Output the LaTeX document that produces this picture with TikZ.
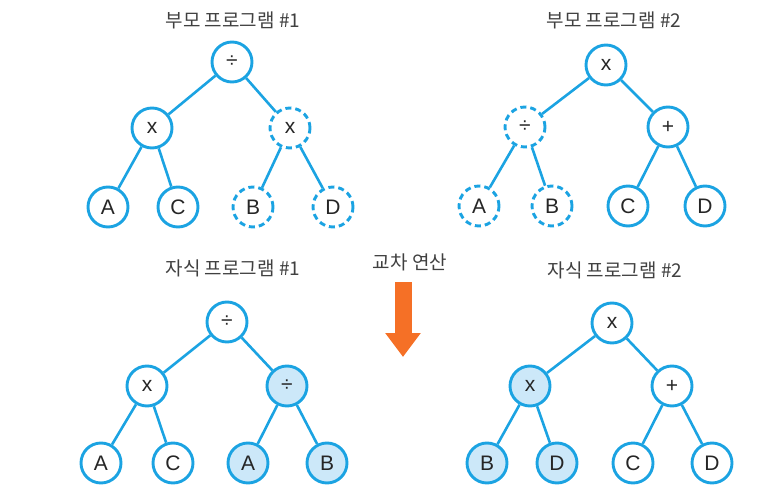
\documentclass[tikz,border=0pt]{standalone}
\usepackage{fontspec}
\setmainfont{Liberation Sans}
\newfontfamily\krfont{Noto Sans CJK KR}
\usetikzlibrary{arrows.meta}
\definecolor{treeblue}{RGB}{27,163,226}
\definecolor{nodefill}{RGB}{204,232,249}
\definecolor{arrorange}{RGB}{245,112,38}
\definecolor{titlegray}{RGB}{64,64,64}

\begin{document}
\begin{tikzpicture}[x=1pt,y=-1pt]
    % Tree style
    \tikzset{
        gp/.style={circle,draw=treeblue,line width=2.9pt,minimum size=40pt,inner sep=0pt,
                   fill=white,text=black!85,font=\fontsize{21}{21}\selectfont},
        gpcut/.style={gp,dash pattern=on 6pt off 4pt},
        gpnew/.style={gp,fill=nodefill},
        branch/.style={draw=treeblue,line width=2.6pt},
        title/.style={font=\krfont\fontsize{19}{19}\selectfont,text=titlegray}
    }
    \useasboundingbox (0,0) rectangle (781,500);

    % Titles
    \node[title] (t1) at (233,20) {부모 프로그램 \#1};
    \node[title] (t2) at (614,20) {부모 프로그램 \#2};
    \node[title] (t3) at (233,268) {자식 프로그램 \#1};
    \node[title] (t4) at (615,270) {자식 프로그램 \#2};
    \node[title] (xover) at (410,262) {교차 연산};

    % Parent 1
    \node[gp] (p1r) at (232,62) {÷};
    \node[gp] (p1a) at (152,128) {x};
    \node[gpcut] (p1b) at (290,128) {x};
    \node[gp] (p1aa) at (108,207) {A};
    \node[gp] (p1ab) at (178,207) {C};
    \node[gpcut] (p1ba) at (253,207) {B};
    \node[gpcut] (p1bb) at (333,207) {D};

    % Parent 2
    \node[gp] (p2r) at (606,65) {x};
    \node[gpcut] (p2a) at (525,127) {÷};
    \node[gp] (p2b) at (668,127) {+};
    \node[gpcut] (p2aa) at (479,206) {A};
    \node[gpcut] (p2ab) at (552,206) {B};
    \node[gp] (p2ba) at (628,206) {C};
    \node[gp] (p2bb) at (705,206) {D};

    % Child 1
    \node[gp] (c1r) at (227,322) {÷};
    \node[gp] (c1a) at (147,386) {x};
    \node[gpnew] (c1b) at (287,386) {÷};
    \node[gp] (c1aa) at (101,463) {A};
    \node[gp] (c1ab) at (173,463) {C};
    \node[gpnew] (c1ba) at (248,463) {A};
    \node[gpnew] (c1bb) at (327,463) {B};

    % Child 2
    \node[gp] (c2r) at (612,323) {x};
    \node[gpnew] (c2a) at (530,386) {x};
    \node[gp] (c2b) at (672,386) {+};
    \node[gpnew] (c2aa) at (487,463) {B};
    \node[gpnew] (c2ab) at (557,463) {D};
    \node[gp] (c2ba) at (633,463) {C};
    \node[gp] (c2bb) at (712,463) {D};

    % Branches
    \draw[branch] (p1r) -- (p1a);
    \draw[branch] (p1r) -- (p1b);
    \draw[branch] (p1a) -- (p1aa);
    \draw[branch] (p1a) -- (p1ab);
    \draw[branch] (p1b) -- (p1ba);
    \draw[branch] (p1b) -- (p1bb);

    \draw[branch] (p2r) -- (p2a);
    \draw[branch] (p2r) -- (p2b);
    \draw[branch] (p2a) -- (p2aa);
    \draw[branch] (p2a) -- (p2ab);
    \draw[branch] (p2b) -- (p2ba);
    \draw[branch] (p2b) -- (p2bb);

    \draw[branch] (c1r) -- (c1a);
    \draw[branch] (c1r) -- (c1b);
    \draw[branch] (c1a) -- (c1aa);
    \draw[branch] (c1a) -- (c1ab);
    \draw[branch] (c1b) -- (c1ba);
    \draw[branch] (c1b) -- (c1bb);

    \draw[branch] (c2r) -- (c2a);
    \draw[branch] (c2r) -- (c2b);
    \draw[branch] (c2a) -- (c2aa);
    \draw[branch] (c2a) -- (c2ab);
    \draw[branch] (c2b) -- (c2ba);
    \draw[branch] (c2b) -- (c2bb);

    % Crossover arrow
    \coordinate (arrtop) at (403,282);
    \coordinate (arrtip) at (403,357);
    \draw[arrorange,line width=17pt,-{Triangle[width=34pt,length=24pt]}] (arrtop) -- (arrtip);
\end{tikzpicture}
\end{document}
